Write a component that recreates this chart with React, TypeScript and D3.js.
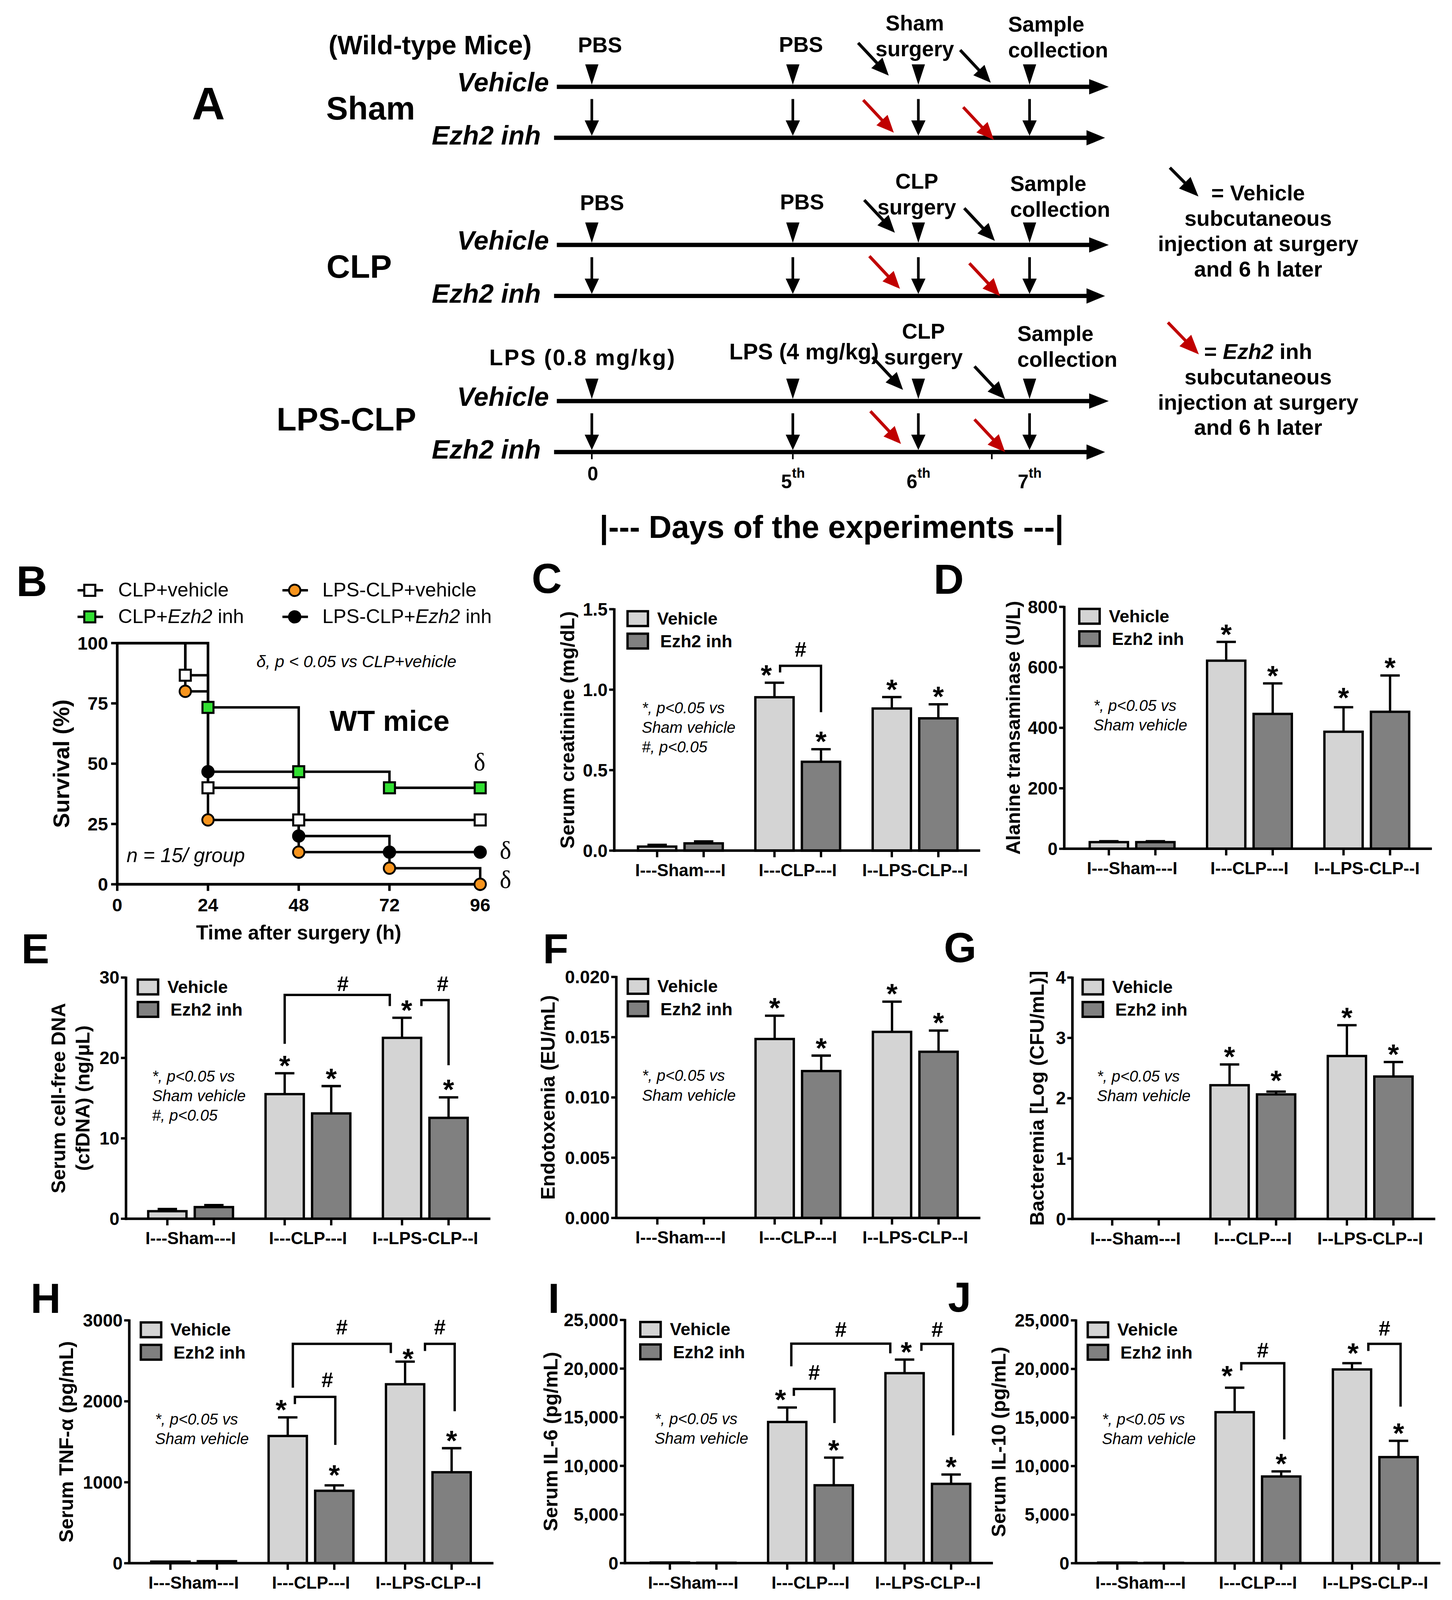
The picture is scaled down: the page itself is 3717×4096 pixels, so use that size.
import React from 'react';
import * as d3 from 'd3';

const SANS = "'Liberation Sans', Arial, Helvetica, sans-serif";
const SERIF = "'Liberation Serif', 'Times New Roman', serif";
const RED = '#c00000';
const GREEN = '#33e033';
const ORANGE = '#f7941d';

// ---------- A: protocol timeline ----------
const dayTicks = ['0', '5', '6', '7'];
const rowNames = ['Sham', 'CLP', 'LPS-CLP'];
const armNames = ['Vehicle', 'Ezh2 inh'];
const rowTopLabels = [
  ['PBS', 'PBS', 'Sham|surgery', 'Sample|collection'],
  ['PBS', 'PBS', 'CLP|surgery', 'Sample|collection'],
  ['LPS (0.8 mg/kg)', 'LPS (4 mg/kg)', 'CLP|surgery', 'Sample|collection'],
];
const legendVehicle = ['= Vehicle', 'subcutaneous', 'injection at surgery', 'and 6 h later'];
const legendEzh = ['= Ezh2 inh', 'subcutaneous', 'injection at surgery', 'and 6 h later'];

// ---------- B: survival ----------
const kmSeries = ['CLP+vehicle', 'CLP+Ezh2 inh', 'LPS-CLP+vehicle', 'LPS-CLP+Ezh2 inh'];
const kmTimes = [
  [0, 18, 24, 48, 96],
  [0, 24, 48, 72, 96],
  [0, 18, 24, 48, 72, 96],
  [0, 24, 48, 72, 96],
];
const kmSurv = [
  [100, 86.67, 40, 26.67, 26.67],
  [100, 73.33, 46.67, 40, 40],
  [100, 80, 26.67, 13.33, 6.67, 0],
  [100, 46.67, 20, 13.33, 13.33],
];
const kmXTicks = [0, 24, 48, 72, 96];
const kmYTicks = [0, 25, 50, 75, 100];

// ---------- C-J: bar panels ----------
const groups = ['I---Sham---I', 'I---CLP---I', 'I--LPS-CLP--I'];
const series = ['Vehicle', 'Ezh2 inh'];
const seriesFill = ['#d4d4d4', '#808080'];

const creatVeh = [0.025, 0.953, 0.883];
const creatVehErr = [0.011, 0.09, 0.071];
const creatEzh = [0.045, 0.552, 0.822];
const creatEzhErr = [0.012, 0.078, 0.087];

const altVeh = [22, 622, 387];
const altVehErr = [3, 62, 81];
const altEzh = [22, 446, 453];
const altEzhErr = [3, 101, 120];

const dnaVeh = [0.94, 15.5, 22.5];
const dnaVehErr = [0.28, 2.6, 2.5];
const dnaEzh = [1.45, 13.1, 12.55];
const dnaEzhErr = [0.25, 3.4, 2.55];

const endoVeh = [0, 0.01485, 0.01544];
const endoVehErr = [0, 0.00193, 0.00251];
const endoEzh = [0, 0.01219, 0.01379];
const endoEzhErr = [0, 0.00128, 0.00176];

const bactVeh = [0, 2.216, 2.7];
const bactVehErr = [0, 0.344, 0.51];
const bactEzh = [0, 2.064, 2.36];
const bactEzhErr = [0, 0.046, 0.24];

const tnfVeh = [20, 1572, 2211];
const tnfVehErr = [0, 230, 280];
const tnfEzh = [25, 895, 1124];
const tnfEzhErr = [0, 67, 297];

const il6Veh = [60, 14510, 19530];
const il6VehErr = [0, 1490, 1400];
const il6Ezh = [40, 8005, 8150];
const il6EzhErr = [0, 2845, 965];

const il10Veh = [60, 15550, 19950];
const il10VehErr = [0, 2520, 640];
const il10Ezh = [40, 8930, 10925];
const il10EzhErr = [0, 520, 1675];

const noteStar = ['*, p<0.05 vs', 'Sham vehicle'];
const noteStarHash = ['*, p<0.05 vs', 'Sham vehicle', '#, p<0.05'];

interface Bracket {
  a: [number, number, number];
  b: [number, number, number];
  y: number; ya: number; yb: number; hy: number; hdx: number;
}
interface BarCfg {
  letter: string; letterX: number; letterY: number;
  axisX: number; fc: number; yTop: number; yBot: number;
  max: number; ticks: number[]; fmt: (v: number) => string;
  title: string[]; titleX: number[];
  note: string[];
  veh: number[]; vehErr: number[]; ezh: number[]; ezhErr: number[];
  starDx: number[]; starDy: number[];
  brackets: Bracket[];
}

const f1 = d3.format('.1f');
const f3 = d3.format('.3f');
const fd = d3.format('d');
const fc = d3.format(',');

const barPanels: BarCfg[] = [
  {
    letter: 'C', letterX: 521, letterY: 581, axisX: 602, fc: 644, yTop: 597, yBot: 833.6,
    max: 1.5, ticks: [0, 0.5, 1.0, 1.5], fmt: f1,
    title: ['Serum creatinine (mg/dL)'], titleX: [556], note: noteStarHash,
    veh: creatVeh, vehErr: creatVehErr, ezh: creatEzh, ezhErr: creatEzhErr,
    starDx: [-8, 0, 0, 0], starDy: [0, 0, 0, 0],
    brackets: [{ a: [1, 0, 5.5], b: [1, 1, 0], y: 1.148, ya: 1.107, yb: 0.86, hy: 1.206, hdx: 0 }],
  },
  {
    letter: 'D', letterX: 915, letterY: 582, axisX: 1043, fc: 1086.7, yTop: 594.7, yBot: 831.8,
    max: 800, ticks: [0, 200, 400, 600, 800], fmt: fd,
    title: ['Alanine transaminase (U/L)'], titleX: [992.7], note: noteStar,
    veh: altVeh, vehErr: altVehErr, ezh: altEzh, ezhErr: altEzhErr,
    starDx: [0, 0, 0, 0], starDy: [0, 0, -2, 0],
    brackets: [],
  },
  {
    letter: 'E', letterX: 21, letterY: 944, axisX: 123.5, fc: 164, yTop: 958, yBot: 1194.4,
    max: 30, ticks: [0, 10, 20, 30], fmt: fd,
    title: ['Serum cell-free DNA', '(cfDNA) (ng/\u03BCL)'], titleX: [57, 80.8], note: noteStarHash,
    veh: dnaVeh, vehErr: dnaVehErr, ezh: dnaEzh, ezhErr: dnaEzhErr,
    starDx: [0, 0, 4.5, 0], starDy: [0, 0, 0, 0],
    brackets: [
      { a: [1, 0, 0], b: [2, 0, -12], y: 27.84, ya: 21.75, yb: 26.45, hy: 28.31, hdx: 5.5 },
      { a: [2, 0, 19], b: [2, 1, 0], y: 27.2, ya: 26.45, yb: 19.09, hy: 28.31, hdx: 7.5 },
    ],
  },
  {
    letter: 'F', letterX: 532, letterY: 944, axisX: 604, fc: 644.2, yTop: 957.4, yBot: 1193.6,
    max: 0.02, ticks: [0, 0.005, 0.01, 0.015, 0.02], fmt: f3,
    title: ['Endotoxemia (EU/mL)'], titleX: [536.7], note: noteStar,
    veh: endoVeh, vehErr: endoVehErr, ezh: endoEzh, ezhErr: endoEzhErr,
    starDx: [0, 0, 0, 0], starDy: [0, 0, 0, 0],
    brackets: [],
  },
  {
    letter: 'G', letterX: 925, letterY: 943, axisX: 1051, fc: 1090, yTop: 958, yBot: 1194.6,
    max: 4, ticks: [0, 1, 2, 3, 4], fmt: fd,
    title: ['Bacteremia [Log (CFU/mL)]'], titleX: [1016], note: noteStar,
    veh: bactVeh, vehErr: bactVehErr, ezh: bactEzh, ezhErr: bactEzhErr,
    starDx: [0, 0, 0, 0], starDy: [0, -3.5, 0, 0],
    brackets: [],
  },
  {
    letter: 'H', letterX: 30, letterY: 1286.5, axisX: 126.7, fc: 167, yTop: 1294, yBot: 1532,
    max: 3000, ticks: [0, 1000, 2000, 3000], fmt: fd,
    title: ['Serum TNF-\u03B1 (pg/mL)'], titleX: [65], note: noteStar,
    veh: tnfVeh, vehErr: tnfVehErr, ezh: tnfEzh, ezhErr: tnfEzhErr,
    starDx: [-6.5, 0, 3, 0], starDy: [0, -2.5, 4.5, 0],
    brackets: [
      { a: [1, 0, 5], b: [2, 0, -14], y: 2710, ya: 2168, yb: 2597, hy: 2826, hdx: 0 },
      { a: [1, 0, 7], b: [1, 1, 1], y: 2055, ya: 1966, yb: 1462, hy: 2177, hdx: 12 },
      { a: [2, 0, 19.5], b: [2, 1, 3], y: 2710, ya: 2622, yb: 1878, hy: 2826, hdx: 0 },
    ],
  },
  {
    letter: 'I', letterX: 537, letterY: 1286.5, axisX: 612.5, fc: 656.5, yTop: 1293.6, yBot: 1531.9,
    max: 25000, ticks: [0, 5000, 10000, 15000, 20000, 25000], fmt: fc,
    title: ['Serum IL-6 (pg/mL)'], titleX: [539.5], note: noteStar,
    veh: il6Veh, vehErr: il6VehErr, ezh: il6Ezh, ezhErr: il6EzhErr,
    starDx: [-6.6, 0, 1.7, 0], starDy: [0, 0, 0, 0],
    brackets: [
      { a: [1, 0, 4], b: [2, 0, -14], y: 22564, ya: 20235, yb: 21567, hy: 23288, hdx: 0 },
      { a: [1, 0, 6.5], b: [1, 1, 0.7], y: 17906, ya: 17193, yb: 14403, hy: 18840, hdx: 0 },
      { a: [2, 0, 16.5], b: [2, 1, 2], y: 22543, ya: 21820, yb: 13134, hy: 23288, hdx: 0 },
    ],
  },
  {
    letter: 'J', letterX: 929, letterY: 1285.5, axisX: 1054.5, fc: 1095, yTop: 1294, yBot: 1532,
    max: 25000, ticks: [0, 5000, 10000, 15000, 20000, 25000], fmt: fc,
    title: ['Serum IL-10 (pg/mL)'], titleX: [978.5], note: noteStar,
    veh: il10Veh, vehErr: il10VehErr, ezh: il10Ezh, ezhErr: il10EzhErr,
    starDx: [-7.4, 0, 1, 0], starDy: [-4, 0, -2.5, 0],
    brackets: [
      { a: [1, 0, 6.5], b: [1, 1, 3], y: 20588, ya: 19853, yb: 12752, hy: 21187, hdx: 0 },
      { a: [2, 0, 16], b: [2, 1, 2], y: 22584, ya: 21849, yb: 16124, hy: 23424, hdx: 0 },
    ],
  },
];

function Arrow({ x1, y1, x2, y2, color, w = 3, head = 17, hw = 7.5 }:
  { x1: number; y1: number; x2: number; y2: number; color: string; w?: number; head?: number; hw?: number }) {
  const dx = x2 - x1, dy = y2 - y1;
  const L = Math.hypot(dx, dy);
  const ux = dx / L, uy = dy / L;
  const bx = x2 - ux * head, by = y2 - uy * head;
  const px = -uy, py = ux;
  return (
    <g>
      <line x1={x1} y1={y1} x2={bx + ux * 2} y2={by + uy * 2} stroke={color} strokeWidth={w} />
      <polygon points={`${x2},${y2} ${bx + px * hw},${by + py * hw} ${bx - px * hw},${by - py * hw}`} fill={color} />
    </g>
  );
}

function PanelA() {
  const dayX = d3.scaleOrdinal<string, number>().domain(dayTicks).range([580, 777, 900, 1009]);
  const rows = [
    { vehY: 85, ezhY: 135, nameX: 319.7, nameY: 117,
      lab: [[588, 51.3], [785, 50.7], [896.5, 29.7], [988, 30.9]],
      tips: [[871, 74], [971, 81], [876, 130], [974, 137]] },
    { vehY: 240, ezhY: 290, nameX: 320, nameY: 272,
      lab: [[590, 206], [786, 205], [898.5, 185], [990, 187]],
      tips: [[877, 228], [975, 236], [882, 283], [980, 290]] },
    { vehY: 393, ezhY: 443, nameX: 271, nameY: 422,
      lab: [[571, 358], [788, 352], [905, 332], [997, 334]],
      tips: [[885, 382], [985, 391], [883, 435], [985, 443]] },
  ];
  return (
    <g>
      <text x={188} y={117} fontSize={45} fontWeight="bold">A</text>
      <text x={322} y={53} fontSize={26} fontWeight="bold">(Wild-type Mice)</text>
      {rows.map((r, ri) => (
        <g key={ri}>
          <text x={r.nameX} y={r.nameY} fontSize={32} fontWeight="bold">{rowNames[ri]}</text>
          <text x={538} y={r.vehY + 4.6} textAnchor="end" fontSize={26} fontWeight="bold" fontStyle="italic">{armNames[0]}</text>
          <text x={530} y={r.ezhY + 6.5} textAnchor="end" fontSize={26} fontWeight="bold" fontStyle="italic">{armNames[1]}</text>
          {[r.vehY, r.ezhY].map((ly, k) => (
            <g key={k}>
              <line x1={k ? 543 : 545.7} x2={k ? 1066 : 1068} y1={ly} y2={ly} stroke="#000" strokeWidth={4.2} />
              <polygon points={`${k ? 1064.8 : 1067.4},${ly - 7.5} ${k ? 1083 : 1086.6},${ly} ${k ? 1064.8 : 1067.4},${ly + 7.5}`} fill="#000" />
            </g>
          ))}
          {dayTicks.map(d => (
            <g key={d}>
              <polygon points={`${dayX(d) - 6.5},${r.vehY - 22} ${dayX(d) + 6.5},${r.vehY - 22} ${dayX(d)},${r.vehY - 2}`} fill="#000" />
              <line x1={dayX(d)} x2={dayX(d)} y1={r.vehY + 12} y2={r.ezhY - 16} stroke="#000" strokeWidth={2.6} />
              <polygon points={`${dayX(d) - 7},${r.ezhY - 17} ${dayX(d) + 7},${r.ezhY - 17} ${dayX(d)},${r.ezhY - 2}`} fill="#000" />
            </g>
          ))}
          {rowTopLabels[ri].map((t, li) => {
            const [lx, ly] = r.lab[li];
            const parts = t.split('|');
            const anchor = li === 3 ? 'start' : 'middle';
            const wide = li === 0 && ri === 2;
            return parts.map((pt, pi) => (
              <text key={`${li}-${pi}`} x={lx} y={ly + pi * 25.3} textAnchor={anchor}
                fontSize={li < 2 && ri === 2 ? 22 : 21} letterSpacing={wide ? 1.2 : 0} fontWeight="bold">{pt}</text>
            ));
          })}
          {r.tips.map(([tx, ty], ai) => (
            <Arrow key={ai} x1={tx - 30} y1={ty - 32} x2={tx} y2={ty} color={ai < 2 ? '#000' : RED} />
          ))}
        </g>
      ))}
      {[580, 777, 972].map(x => (
        <line key={x} x1={x} x2={x} y1={445} y2={450} stroke="#000" strokeWidth={1.6} />
      ))}
      {dayTicks.map(d => (
        d === '0'
          ? <text key={d} x={dayX(d) + 1} y={471} textAnchor="middle" fontSize={19} fontWeight="bold">0</text>
          : <text key={d} x={dayX(d) - 11.5} y={478.5} fontSize={19} fontWeight="bold">{d}<tspan dy={-10.5} fontSize={13.5}>th</tspan></text>
      ))}
      <text x={815} y={527} textAnchor="middle" fontSize={31} fontWeight="bold">|--- Days of the experiments ---|</text>
      <Arrow x1={1146.5} y1={164.3} x2={1174.5} y2={192.5} color="#000" w={3} head={19} hw={8} />
      <Arrow x1={1144.6} y1={316} x2={1174.9} y2={347.3} color={RED} w={3} head={19} hw={8} />
      {legendVehicle.map((t, i) => (
        <text key={i} x={1233} y={196.5 + i * 24.8} textAnchor="middle" fontSize={21.3} fontWeight="bold">{t}</text>
      ))}
      {legendEzh.map((t, i) => (
        <text key={i} x={1233} y={351.8 + i * 24.8} textAnchor="middle" fontSize={21.3} fontWeight="bold">
          {i === 0 ? (<>{'= '}<tspan fontStyle="italic">Ezh2</tspan>{' inh'}</>) : t}
        </text>
      ))}
    </g>
  );
}

function Marker({ x, y, k }: { x: number; y: number; k: number }) {
  if (k < 2) {
    return <rect x={x - 5.4} y={y - 5.4} width={10.8} height={10.8} fill={k === 0 ? '#fff' : GREEN} stroke="#000" strokeWidth={2} />;
  }
  return <circle cx={x} cy={y} r={5.6} fill={k === 2 ? ORANGE : '#000'} stroke="#000" strokeWidth={1.8} />;
}

function PanelB() {
  const x = d3.scaleLinear().domain([0, 96]).range([114.9, 470.6]);
  const y = d3.scaleLinear().domain([0, 100]).range([866.6, 630.2]);
  const line = d3.line<[number, number]>().x(d => x(d[0])).y(d => y(d[1])).curve(d3.curveStepAfter);
  const legendPos = [[88, 578.5, 115.8], [88, 604.5, 115.8], [288.8, 578.5, 315.9], [288.8, 604.5, 315.9]];
  return (
    <g>
      <text x={16} y={584} fontSize={42} fontWeight="bold">B</text>
      {kmSeries.map((s, k) => {
        const [mx, my, tx] = legendPos[k];
        const parts = s.split('Ezh2');
        return (
          <g key={s}>
            <line x1={mx - 12} x2={mx + 13} y1={my} y2={my} stroke="#000" strokeWidth={2.4} />
            <Marker x={mx} y={my} k={k} />
            <text x={tx} y={my + 6.2} fontSize={19.2}>
              {parts[0]}
              {parts.length > 1 && <tspan fontStyle="italic">Ezh2</tspan>}
              {parts.length > 1 && parts[1]}
            </text>
          </g>
        );
      })}
      {kmSeries.map((s, k) => (
        <path key={s} d={line(kmTimes[k].map((t, i) => [t, kmSurv[k][i]] as [number, number])) ?? ''}
          fill="none" stroke="#000" strokeWidth={2.4} />
      ))}
      <line x1={x(0)} x2={x(0)} y1={y(100) - 1} y2={y(0) + 1.2} stroke="#000" strokeWidth={2.6} />
      <line x1={x(0) - 1.2} x2={x(96) + 3} y1={y(0)} y2={y(0)} stroke="#000" strokeWidth={2.6} />
      {kmYTicks.map(t => (
        <g key={t}>
          <line x1={x(0) - 6} x2={x(0)} y1={y(t)} y2={y(t)} stroke="#000" strokeWidth={2.4} />
          <text x={x(0) - 9} y={y(t)} dy="0.35em" textAnchor="end" fontSize={18} fontWeight="bold">{t}</text>
        </g>
      ))}
      {kmXTicks.map(t => (
        <g key={t}>
          <line x1={x(t)} x2={x(t)} y1={y(0)} y2={y(0) + 6.5} stroke="#000" strokeWidth={2.4} />
          <text x={x(t)} y={893} textAnchor="middle" fontSize={18} fontWeight="bold">{t}</text>
        </g>
      ))}
      {kmSeries.map((s, k) => (
        <g key={s}>
          {kmTimes[k].slice(1).map((t, i) => (
            <Marker key={t} x={x(t)} y={y(kmSurv[k][i + 1])} k={k} />
          ))}
        </g>
      ))}
      <text transform={`translate(60,${(y(0) + y(100)) / 2}) rotate(-90)`} dy="0.35em" textAnchor="middle" fontSize={22} fontWeight="bold">Survival (%)</text>
      <text x={x(48)} y={920.6} textAnchor="middle" fontSize={19.6} fontWeight="bold">Time after surgery (h)</text>
      <text x={251.3} y={653.8} fontSize={16.4} fontStyle="italic">{'\u03B4, p < 0.05 vs CLP+vehicle'}</text>
      <text x={323} y={716.3} fontSize={28.6} fontWeight="bold">WT mice</text>
      <text x={124} y={845} fontSize={19.6} fontStyle="italic">n = 15/ group</text>
      <text x={470} y={754.8} textAnchor="middle" fontSize={24} fontFamily={SERIF}>{'\u03B4'}</text>
      <text x={495.4} y={841.6} textAnchor="middle" fontSize={24} fontFamily={SERIF}>{'\u03B4'}</text>
      <text x={495.4} y={870.3} textAnchor="middle" fontSize={24} fontFamily={SERIF}>{'\u03B4'}</text>
    </g>
  );
}

function BarPanel({ p }: { p: BarCfg }) {
  const y = d3.scaleLinear().domain([0, p.max]).range([p.yBot, p.yTop]);
  const xg = d3.scaleBand<string>().domain(groups).range([p.fc - 34.7, p.fc + 310.3]).padding(0);
  const xs = d3.scalePoint<string>().domain(series).range([0, xg.bandwidth()]).padding(0.761);
  const cx = (g: number, s: number) => (xg(groups[g]) ?? 0) + (xs(series[s]) ?? 0);
  const vals = [p.veh, p.ezh];
  const errs = [p.vehErr, p.ezhErr];
  const barW = 37.5;
  const xEnd = cx(2, 1) + 41;
  const midY = (p.yTop + p.yBot) / 2;
  const sw = 2.3;
  return (
    <g>
      <text x={p.letterX} y={p.letterY} fontSize={41} fontWeight="bold">{p.letter}</text>
      {p.title.map((t, i) => (
        <text key={i} transform={`translate(${p.titleX[i]},${midY}) rotate(-90)`} dy="0.35em"
          textAnchor="middle" fontSize={19.3} fontWeight="bold">{t}</text>
      ))}
      {groups.map((g, gi) => series.map((s, si) => {
        const v = vals[si][gi];
        if (v <= 0) return null;
        const e = errs[si][gi];
        const c = cx(gi, si);
        return (
          <g key={g + s}>
            {e > 0 && <line x1={c} x2={c} y1={y(v)} y2={y(v + e)} stroke="#000" strokeWidth={sw} />}
            {e > 0 && <line x1={c - 9.5} x2={c + 9.5} y1={y(v + e)} y2={y(v + e)} stroke="#000" strokeWidth={sw} />}
            <rect x={c - barW / 2} y={y(v)} width={barW} height={p.yBot - y(v)} fill={seriesFill[si]} stroke="#000" strokeWidth={sw} />
          </g>
        );
      }))}
      {[1, 2].map(gi => [0, 1].map(si => {
        const k = (gi - 1) * 2 + si;
        const top = y(vals[si][gi] + errs[si][gi]);
        return (
          <text key={`s${k}`} x={cx(gi, si) + p.starDx[k]} y={top + 2 + p.starDy[k]} textAnchor="middle"
            fontSize={28} fontWeight="bold">*</text>
        );
      }))}
      {p.brackets.map((b, i) => {
        const xa = cx(b.a[0], b.a[1]) + b.a[2];
        const xb = cx(b.b[0], b.b[1]) + b.b[2];
        return (
          <g key={`b${i}`}>
            <path d={`M${xa},${y(b.ya)}V${y(b.y)}H${xb}V${y(b.yb)}`} fill="none" stroke="#000" strokeWidth={sw} />
            <text x={(xa + xb) / 2 + b.hdx} y={y(b.hy)} textAnchor="middle" fontSize={20.5} fontWeight="bold">#</text>
          </g>
        );
      })}
      {series.map((s, si) => (
        <g key={s}>
          <rect x={p.fc - 29} y={p.yTop + (si ? 24 : 2)} width={20} height={14.5} fill={seriesFill[si]} stroke="#000" strokeWidth={sw} />
          <text x={p.fc + (si ? 3 : 0)} y={p.yTop + (si ? 37.5 : 15)} fontSize={17.2} fontWeight="bold">{s}</text>
        </g>
      ))}
      {p.note.map((t, i) => (
        <text key={i} x={p.fc - 15} y={p.yTop + 102 + i * 19.2} fontSize={15.3} fontStyle="italic">{t}</text>
      ))}
      <line x1={p.axisX} x2={p.axisX} y1={p.yTop - 1} y2={p.yBot + 1.2} stroke="#000" strokeWidth={2.5} />
      {p.ticks.map(t => (
        <g key={t}>
          <line x1={p.axisX - 5} x2={p.axisX} y1={y(t)} y2={y(t)} stroke="#000" strokeWidth={2.3} />
          <text x={p.axisX - 6.5} y={y(t)} dy="0.35em" textAnchor="end" fontSize={17.5} fontWeight="bold">{p.fmt(t)}</text>
        </g>
      ))}
      <line x1={p.axisX - 1.2} x2={xEnd} y1={p.yBot} y2={p.yBot} stroke="#000" strokeWidth={2.5} />
      {groups.map((g, gi) => (
        <g key={g}>
          {series.map((s, si) => (
            <line key={s} x1={cx(gi, si)} x2={cx(gi, si)} y1={p.yBot} y2={p.yBot + 6.5} stroke="#000" strokeWidth={2.3} />
          ))}
          <text x={(cx(gi, 0) + cx(gi, 1)) / 2} y={p.yBot + 25} textAnchor="middle" fontSize={16.8} fontWeight="bold">{g}</text>
        </g>
      ))}
    </g>
  );
}

export default function App() {
  const W = 1423, H = 1568;
  return (
    <div style={{ position: 'absolute', left: 0, top: 0, background: '#fff' }}>
      <svg width={3717} height={4096} viewBox={`0 0 ${W} ${H}`} style={{ display: 'block' }} fontFamily={SANS}>
        <rect width={W} height={H} fill="#fff" />
        <PanelA />
        <PanelB />
        {barPanels.map(p => <BarPanel key={p.letter} p={p} />)}
      </svg>
    </div>
  );
}
